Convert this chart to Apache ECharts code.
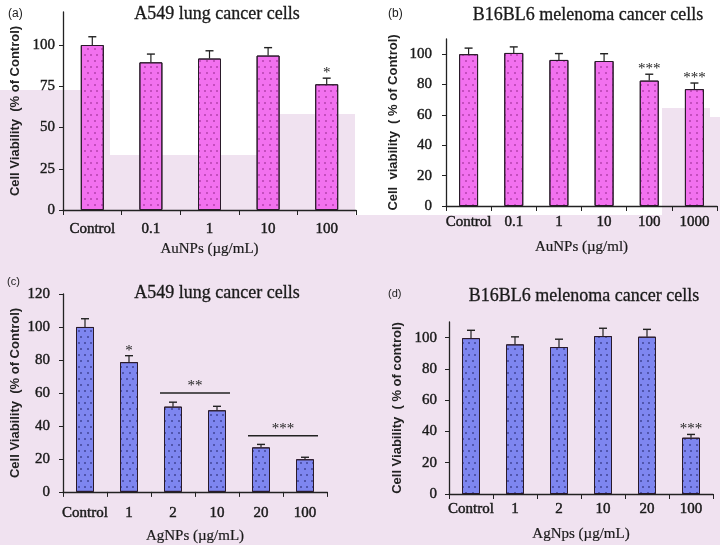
<!DOCTYPE html>
<html><head><meta charset="utf-8">
<script src="https://cdn.jsdelivr.net/npm/echarts@6/dist/echarts.min.js"></script>
<style>html,body{margin:0;padding:0;background:#fff}#c{width:720px;height:545px}</style>
</head><body><div id="c"></div>
<script>
// ---- data ----
const catsA = ['Control','0.1','1','10','100'];
const valsA = [100, 89.5, 91.8, 93.6, 76.2];
const errA  = [5, 5, 4.7, 4.8, 3.7];
const sigA  = ['', '', '', '', '*'];

const catsB = ['Control','0.1','1','10','100','1000'];
const valsB = [100, 100.8, 96.2, 95.5, 82.6, 77];
const errB  = [4, 4, 4.2, 4.8, 4.2, 4];
const sigB  = ['', '', '', '', '***', '***'];

const catsC = ['Control','1','2','10','20','100'];
const valsC = [100, 78.7, 51.7, 49.5, 27, 19.8];
const errC  = [5, 3.9, 2.7, 2.4, 1.8, 1.2];
const sigC  = ['', '*', '', '', '', ''];
const sigLinesC = [
  {from: 2, to: 3, y: 60, text: '**'},
  {from: 4, to: 5, y: 34, text: '***'}
];

const catsD = ['Control','1','2','10','20','100'];
const valsD = [99.7, 95.7, 94, 101, 100.6, 36];
const errD  = [5, 4.8, 5, 5, 4.7, 2.1];
const sigD  = ['', '', '', '', '', '***'];

const ticksA = [0, 25, 50, 75, 100];
const ticksB = [0, 20, 40, 60, 80, 100];
const ticksC = [0, 20, 40, 60, 80, 100, 120];
const ticksD = [0, 20, 40, 60, 80, 100];

const titles = ['A549 lung cancer cells','B16BL6 melenoma cancer cells','A549 lung cancer cells','B16BL6 melenoma cancer cells'];
const panelTags = ['(a)','(b)','(c)','(d)'];
const yNames = ['Cell Viability  (% of Control)','Cell  viability  ( % of Control)','Cell Viability  (% of Control)','Cell Viability  ( % of control)'];
const xNames = ['AuNPs (µg/mL)','AuNPs (µg/ml)','AgNPs (µg/mL)','AgNps (µg/mL)'];

// ---- styling ----
const PINK_BG = '#f0e2f0';
const SERIF = "'Liberation Serif','DejaVu Serif',serif";
const SANS = "'Liberation Sans',Arial,sans-serif";
const INK = '#1a1a1a';
const pinkBar = '#f271ef', blueBar = '#7e86f0';

function decal(dot){
  return {symbol:'circle', symbolSize:1, color:dot, dashArrayX:[[1.3,3.9],[0,2.6,1.3,1.3]], dashArrayY:[1.3,3.2], rotation:0};
}

const grids = [
  {left:63, top:12, width:293, height:198},
  {left:446, top:39, width:271, height:167},
  {left:63, top:294, width:264, height:198},
  {left:449, top:322, width:264, height:172}
];
const yMax = [120, 110, 120, 110];
const yTicks = [ticksA, ticksB, ticksC, ticksD];
const cats = [catsA, catsB, catsC, catsD];
const vals = [valsA, valsB, valsC, valsD];
const errs = [errA, errB, errC, errD];
const sigs = [sigA, sigB, sigC, sigD];
const barW = [23, 19, 18, 18];
const yLabelMargin = [8, 14, 13, 12];
const yNameGap = [41, 46, 41, 45];
const xLabelMargin = [12, 9, 14, 8];
const xNameGap = [32, 34, 37, 33];
const titlePos = [[212,0],[583,1],[212,279],[579,282]];
const tagPos = [[3,3],[383,3],[2,271],[383,283]];

const xAxis = [], yAxis = [], series = [], title = [];
for (let i = 0; i < 4; i++) {
  xAxis.push({
    type:'category', gridIndex:i, data:cats[i],
    name:xNames[i], nameLocation:'middle', nameGap:xNameGap[i],
    nameTextStyle:{fontFamily:SERIF, fontSize:15, color:INK, textBorderColor:INK, textBorderWidth:0.2},
    axisLine:{lineStyle:{color:'#222', width:1.3}},
    axisTick:{show:true, length:5, lineStyle:{color:'#222'}},
    axisLabel:{fontFamily:SERIF, fontSize:15, color:INK, margin:xLabelMargin[i], interval:0, textBorderColor:INK, textBorderWidth:0.45}
  });
  yAxis.push({
    type:'value', gridIndex:i, min:0, max:yMax[i],
    name:yNames[i], nameLocation:'middle', nameGap:yNameGap[i],
    nameTextStyle:{fontFamily:SANS, fontSize:13, fontWeight:'bold', color:'#222'},
    splitLine:{show:false},
    axisLine:{show:true, lineStyle:{color:'#222', width:1.3}},
    axisTick:{show:true, length:4, customValues:yTicks[i], lineStyle:{color:'#222'}},
    axisLabel:{fontFamily:SERIF, fontSize:15, color:INK, margin:yLabelMargin[i], customValues:yTicks[i], textBorderColor:INK, textBorderWidth:0.4}
  });
  const isPink = i < 2;
  series.push({
    type:'bar', xAxisIndex:i, yAxisIndex:i, data:vals[i], barWidth:barW[i],
    itemStyle:{color:isPink?pinkBar:blueBar, borderColor:'#2a1a2a', borderWidth:1,
      decal: decal(isPink?'rgba(120,20,110,0.5)':'rgba(25,25,90,0.6)')},
    z:2
  });
  const ed = vals[i].map((v,k)=>[k, v, errs[i][k], sigs[i][k]]);
  series.push({
    type:'custom', xAxisIndex:i, yAxisIndex:i, data:ed, z:3,
    renderItem:function(params, api){
      const k = api.value(0), v = api.value(1), e = api.value(2);
      const s = ed[params.dataIndex][3];
      const p0 = api.coord([k, v]);
      const p1 = api.coord([k, v+e]);
      const ch = [
        {type:'line', shape:{x1:p0[0], y1:p0[1], x2:p1[0], y2:p1[1]}, style:{stroke:'#222', lineWidth:1.2}},
        {type:'line', shape:{x1:p1[0]-4, y1:p1[1], x2:p1[0]+4, y2:p1[1]}, style:{stroke:'#222', lineWidth:1.4}}
      ];
      if (s) ch.push({type:'text', style:{text:s, x:p1[0], y:p1[1]-5, align:'center', verticalAlign:'middle',
        font:"15px 'Liberation Serif', serif", fill:'#222'}});
      return {type:'group', children:ch};
    }
  });
  title.push({text:titles[i], left:titlePos[i][0], top:titlePos[i][1], textAlign:'center',
    textStyle:{fontFamily:SERIF, fontSize:18, fontWeight:'normal', color:INK, textBorderColor:INK, textBorderWidth:0.3}});
  title.push({text:panelTags[i], left:tagPos[i][0], top:tagPos[i][1],
    textStyle:{fontFamily:SANS, fontSize:i>=2?11:12, fontWeight:'normal', color:INK}});
}
// significance bars in panel c
series.push({
  type:'custom', xAxisIndex:2, yAxisIndex:2, z:3,
  data:sigLinesC.map(d=>[d.from, d.to, d.y]),
  renderItem:function(params, api){
    const d = sigLinesC[params.dataIndex];
    const a = api.coord([d.from, d.y]), b = api.coord([d.to, d.y]);
    const ext = 13;
    return {type:'group', children:[
      {type:'line', shape:{x1:a[0]-ext, y1:a[1], x2:b[0]+ext, y2:b[1]}, style:{stroke:'#222', lineWidth:1.5}},
      {type:'text', style:{text:d.text, x:(a[0]+b[0])/2, y:a[1]-7, align:'center', verticalAlign:'middle',
        font:"15px 'Liberation Serif', serif", fill:'#222'}}
    ]};
  }
});

const bgRects = [
  [0,215,720,330],[0,90,110,125],[110,155,170,60],[280,114,75,101],[662,108,48,107],[710,117,10,98]
];
const option = {
  backgroundColor:'#ffffff',
  animation:false,
  graphic: bgRects.map(r=>({type:'rect', silent:true, z:-10, shape:{x:r[0],y:r[1],width:r[2],height:r[3]}, style:{fill:PINK_BG}})),
  title, grid:grids, xAxis, yAxis, series
};
echarts.init(document.getElementById('c'), null, {renderer:'canvas'}).setOption(option);
</script></body></html>
